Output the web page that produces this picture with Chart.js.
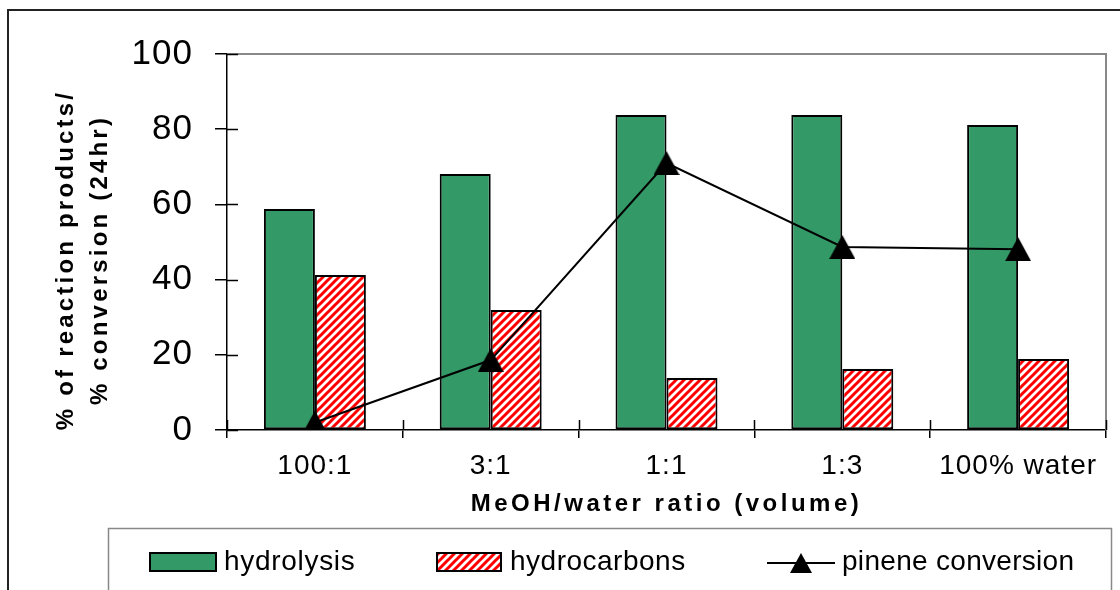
<!DOCTYPE html>
<html>
<head>
<meta charset="utf-8">
<title>MeOH/water ratio</title>
<script src="https://cdn.jsdelivr.net/npm/chart.js@4.4.1/dist/chart.umd.min.js"></script>
<style>
  html, body { margin: 0; padding: 0; background: #fff; }
  #wrap { width: 1120px; height: 590px; }
</style>
</head>
<body>
<div id="wrap"><canvas id="chart" width="1120" height="590"></canvas></div>
<script>
const ratios = ['100:1', '3:1', '1:1', '1:3', '100% water'];
const hydrolysis = [58.8, 68.1, 83.8, 83.8, 81.1];
const hydrocarbons = [41.2, 31.9, 13.8, 16.2, 18.9];
const pineneConversion = [2.0, 18.6, 71.0, 48.7, 48.1];
const yTicks = [0, 20, 40, 60, 80, 100];

const FONT = '"Liberation Sans", Arial, sans-serif';
const ctx = document.getElementById('chart').getContext('2d');

// red "/" stripes on white
function makeHatch() {
  const c = document.createElement('canvas');
  c.width = 8; c.height = 8;
  const g = c.getContext('2d');
  g.fillStyle = '#fff';
  g.fillRect(0, 0, 8, 8);
  g.strokeStyle = '#ff0000';
  g.lineWidth = 3;
  g.beginPath();
  g.moveTo(-2, 10); g.lineTo(10, -2);
  g.moveTo(-6, 6); g.lineTo(6, -6);
  g.moveTo(2, 14); g.lineTo(14, 2);
  g.stroke();
  return ctx.createPattern(c, 'repeat');
}

function makeTriangle(w, h) {
  const c = document.createElement('canvas');
  c.width = w; c.height = h;
  const g = c.getContext('2d');
  g.fillStyle = '#000';
  g.beginPath();
  g.moveTo(w / 2, 0); g.lineTo(w, h); g.lineTo(0, h);
  g.closePath();
  g.fill();
  return c;
}

const hatch = makeHatch();
const triangle = makeTriangle(26, 24);
const legendTriangle = makeTriangle(22, 20);

function spacedText(g, text, x, y, font, spacing, align) {
  g.font = font;
  g.letterSpacing = spacing + 'px';
  g.textAlign = align || 'left';
  g.textBaseline = 'alphabetic';
  g.fillStyle = '#000';
  g.fillText(text, x, y);
}

const decor = {
  id: 'decor',
  beforeDraw(chart) {
    chart.ctx.letterSpacing = '1px';
  },
  beforeDatasetsDraw(chart) {
    const g = chart.ctx;
    const a = chart.chartArea;
    g.save();
    // grey plot frame on top and right
    g.strokeStyle = '#888';
    g.lineWidth = 2;
    g.beginPath();
    g.moveTo(a.left, a.top); g.lineTo(a.right, a.top); g.lineTo(a.right, a.bottom);
    g.stroke();
    // inner half of the crossing tick marks
    g.strokeStyle = '#000';
    g.lineWidth = 1.5;
    g.beginPath();
    const ys = chart.scales.y;
    ys.ticks.forEach((t, i) => {
      const py = Math.round(ys.getPixelForTick(i)) + 0.5;
      g.moveTo(a.left, py); g.lineTo(a.left + 11, py);
    });
    const xs = chart.scales.x;
    for (let i = 0; i <= ratios.length; i++) {
      const px = Math.round(xs.getPixelForValue(i - 0.5)) + 0.5;
      g.moveTo(px, a.bottom); g.lineTo(px, a.bottom - 10);
    }
    g.stroke();
    g.restore();
  },
  afterDraw(chart) {
    const g = chart.ctx;
    const a = chart.chartArea;
    g.save();
    // outer frame
    g.strokeStyle = '#222';
    g.lineWidth = 2;
    g.strokeRect(8, 10, 1130, 600);

    // axis titles
    const titleFont = 'bold 24px ' + FONT;
    spacedText(g, 'MeOH/water ratio (volume)', (a.left + a.right) / 2, 511, titleFont, 3.5, 'center');
    g.save();
    g.translate(73, 260);
    g.rotate(-Math.PI / 2);
    spacedText(g, '% of reaction products/', 0, 0, titleFont, 3.2, 'center');
    g.restore();
    g.save();
    g.translate(107, 260);
    g.rotate(-Math.PI / 2);
    spacedText(g, '% conversion (24hr)', 0, 0, titleFont, 3.2, 'center');
    g.restore();

    // legend
    g.strokeStyle = '#888';
    g.lineWidth = 1.5;
    g.strokeRect(108.5, 528.5, 1003, 80);
    const ds = chart.data.datasets;
    const legFont = '28px ' + FONT;
    g.lineWidth = 2;
    g.strokeStyle = '#000';
    g.fillStyle = ds[0].backgroundColor;
    g.fillRect(150, 553, 66, 18);
    g.strokeRect(150, 553, 66, 18);
    spacedText(g, ds[0].label, 224, 570, legFont, 0.7);
    g.fillStyle = ds[1].backgroundColor;
    g.fillRect(437, 553, 64, 18);
    g.strokeStyle = '#000';
    g.strokeRect(437, 553, 64, 18);
    spacedText(g, ds[1].label, 510, 570, legFont, 0.5);
    g.strokeStyle = ds[2].borderColor;
    g.lineWidth = 2;
    g.beginPath();
    g.moveTo(767, 563); g.lineTo(835, 563);
    g.stroke();
    g.drawImage(legendTriangle, 801 - 11, 563 - 10);
    spacedText(g, ds[2].label, 842, 570, legFont, 0.3);
    g.restore();
  }
};

new Chart(ctx, {
  type: 'bar',
  data: {
    labels: ratios,
    datasets: [{
      label: 'hydrolysis',
      data: hydrolysis,
      backgroundColor: '#339966',
      borderColor: '#000',
      borderWidth: 2,
      borderSkipped: false,
      order: 1
    }, {
      label: 'hydrocarbons',
      data: hydrocarbons,
      backgroundColor: hatch,
      borderColor: '#000',
      borderWidth: 2,
      borderSkipped: false,
      order: 2
    }, {
      type: 'line',
      label: 'pinene conversion',
      data: pineneConversion,
      borderColor: '#000',
      borderWidth: 2,
      pointStyle: triangle,
      tension: 0,
      order: 0
    }]
  },
  options: {
    responsive: false,
    animation: false,
    events: [],
    layout: { padding: { top: 54, right: 14, left: 0, bottom: 0 } },
    datasets: {
      bar: { categoryPercentage: 0.58, barPercentage: 1 }
    },
    plugins: {
      legend: { display: false },
      tooltip: { enabled: false }
    },
    scales: {
      x: {
        offset: true,
        grid: { offset: true, drawOnChartArea: false, tickLength: 8, color: '#000', lineWidth: 1.5 },
        border: { display: true, color: '#000', width: 1.5 },
        ticks: { color: '#000', font: { family: FONT, size: 28 }, padding: 11, maxRotation: 0 },
        afterFit(scale) { scale.height = 160; }
      },
      y: {
        min: 0,
        max: 100,
        grid: { drawOnChartArea: false, tickLength: 12, color: '#000', lineWidth: 1.5 },
        border: { display: true, color: '#000', width: 1.5 },
        ticks: { color: '#000', font: { family: FONT, size: 35 }, padding: 22 },
        afterBuildTicks(scale) { scale.ticks = yTicks.map(v => ({ value: v })); },
        afterFit(scale) { scale.width = 227; }
      }
    }
  },
  plugins: [decor]
});
</script>
</body>
</html>
